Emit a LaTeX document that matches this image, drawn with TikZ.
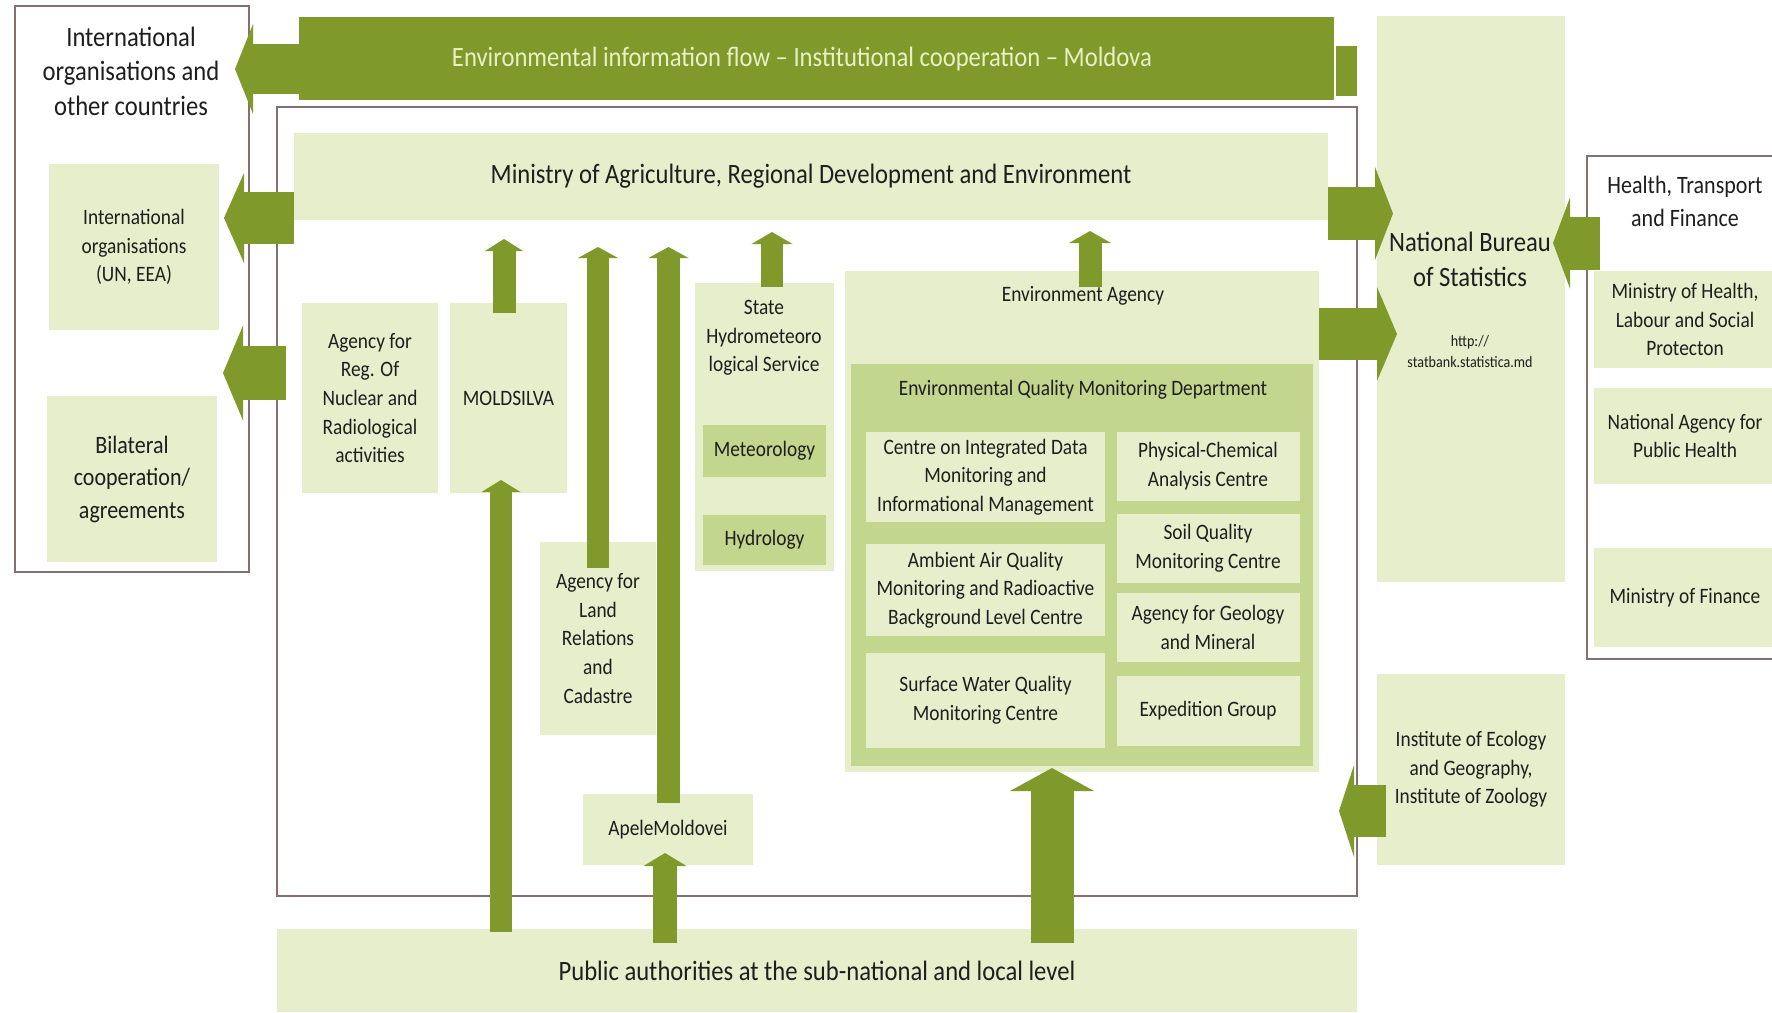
\documentclass[tikz,border=0pt]{standalone}
\usepackage{fontspec}
\setmainfont{Carlito}[FakeStretch=0.88]
\usetikzlibrary{arrows.meta}
\definecolor{arrowc}{HTML}{7F9A2B}
\definecolor{lightg}{HTML}{E7EECB}
\definecolor{midg}{HTML}{C3D68E}
\definecolor{framec}{HTML}{857070}
\definecolor{txtc}{HTML}{1E1E1E}
\definecolor{bannertxt}{HTML}{E8F0C6}
\newcommand\FsA{\fontsize{28}{34.5}\selectfont}
\newcommand\FsB{\fontsize{25}{32.5}\selectfont}
\newcommand\FsC{\fontsize{22}{28.6}\selectfont}
\newcommand\FsD{\fontsize{16}{21}\selectfont}
\tikzset{
  txt/.style={inner sep=0pt, outer sep=0pt, align=center, text=txtc},
  lbox/.style={txt, fill=lightg},
  mbox/.style={txt, fill=midg},
  frame/.style={draw=framec, line width=2pt, inner sep=0pt, outer sep=0pt},
  blk/.style n args={3}{draw=arrowc, line width=#1, -{Triangle[width=#2,length=#3,line width=0pt]}},
  sz/.style 2 args={minimum width=#1, minimum height=#2}
}
\begin{document}
\begin{tikzpicture}[x=1pt,y=-1pt]
\useasboundingbox (0,0) rectangle (1772,1012);
\clip (0,0) rectangle (1772,1012);
\fill[white] (0,0) rectangle (1772,1012);

% ---------- left frame ----------
\node[frame, sz={234pt}{566pt}] (lframe) at (132,289) {};
\node[txt, font=\FsA] (intlT) at (131,71) {International\\organisations and\\other countries};
\node[lbox, sz={170pt}{166pt}, font=\FsC] (intorg) at (134,247) {International\\organisations\\(UN, EEA)};
\node[lbox, sz={170pt}{166pt}, font=\FsB] (bilat) at (132,479) {Bilateral\\cooperation/\\agreements};

% ---------- banner ----------
\node[fill=arrowc, sz={1035pt}{83pt}, inner sep=0pt] (banner) at (816.5,58.5) {};
\node[inner sep=0pt, font=\FsA, text=bannertxt] (bannerT) at (802,59) {Environmental information flow – Institutional cooperation – Moldova};
\node[fill=arrowc, sz={21pt}{50pt}, inner sep=0pt] (bannerR) at (1346.5,71) {};

% ---------- inner frame ----------
\node[frame, sz={1080pt}{789pt}] (iframe) at (817,501.5) {};
\node[lbox, sz={1034pt}{87pt}, font=\FsA] (ministry) at (811,176.5) {Ministry of Agriculture, Regional Development and Environment};

\node[lbox, sz={136pt}{190pt}, font=\FsC] (agreg) at (370,398) {Agency for\\Reg. Of\\Nuclear and\\Radiological\\activities};
\node[lbox, sz={117pt}{190pt}, font=\FsC] (moldsilva) at (508.5,398) {MOLDSILVA};
\node[lbox, sz={116pt}{193pt}, font=\FsC] (land) at (598,638.5) {Agency for\\Land\\Relations\\and\\Cadastre};
\node[lbox, sz={170pt}{71pt}, font=\FsC] (apele) at (668,829.5) {ApeleMoldovei};

\node[lbox, sz={139pt}{288pt}] (state) at (764.5,427) {};
\node[txt, font=\FsC] (stateT) at (764,338) {State\\Hydrometeoro\\logical Service};
\node[mbox, sz={123pt}{52pt}, font=\FsC] (meteo) at (764.5,451) {Meteorology};
\node[mbox, sz={123pt}{50pt}, font=\FsC] (hydro) at (764.5,540) {Hydrology};

\node[lbox, sz={474pt}{501pt}] (ea) at (1082,521.5) {};
\node[txt, font=\FsC] (eaT) at (1083,296) {Environment Agency};
\node[mbox, sz={462pt}{402pt}] (dept) at (1082,565) {};
\node[txt, font=\FsC] (deptT) at (1083,390) {Environmental Quality Monitoring Department};

\node[lbox, sz={239pt}{90pt}, font=\FsC] (centre) at (985.5,477) {Centre on Integrated Data\\Monitoring and\\Informational Management};
\node[lbox, sz={239pt}{92pt}, font=\FsC] (ambient) at (985.5,590) {Ambient Air Quality\\Monitoring and Radioactive\\Background Level Centre};
\node[lbox, sz={239pt}{95pt}, font=\FsC] (surface) at (985.5,700.5) {Surface Water Quality\\Monitoring Centre};
\node[lbox, sz={183pt}{69pt}, font=\FsC] (phys) at (1208,466) {Physical-Chemical\\Analysis Centre};
\node[lbox, sz={183pt}{69pt}, font=\FsC] (soil) at (1208,548.5) {Soil Quality\\Monitoring Centre};
\node[lbox, sz={183pt}{69pt}, font=\FsC] (geo) at (1208,627.5) {Agency for Geology\\and Mineral};
\node[lbox, sz={183pt}{70pt}, font=\FsC] (exped) at (1208,711) {Expedition Group};

\node[lbox, sz={1080pt}{83pt}, font=\FsA] (public) at (817,970.5) {Public authorities at the sub-national and local level};

% ---------- right side ----------
\node[lbox, sz={188pt}{566pt}] (nbs) at (1471,299) {};
\node[txt, font=\fontsize{28}{35}\selectfont] (nbsT) at (1470,259) {National Bureau\\of Statistics};
\node[txt, font=\FsD] (nbsU) at (1470,352) {http://\\statbank.statistica.md};

\node[frame, sz={213pt}{503pt}] (rframe) at (1693.5,407.5) {};
\node[txt, font=\fontsize{25}{33}\selectfont] (rT) at (1685,201) {Health, Transport\\and Finance};
\node[lbox, sz={182pt}{97pt}, font=\FsC] (minhealth) at (1685,319.5) {Ministry of Health,\\Labour and Social\\Protecton};
\node[lbox, sz={182pt}{96pt}, font=\FsC] (natag) at (1685,436) {National Agency for\\Public Health};
\node[lbox, sz={182pt}{99pt}, font=\FsC] (minfin) at (1685,597.5) {Ministry of Finance};

\node[lbox, sz={188pt}{191pt}, font=\FsC] (inst) at (1471,769.5) {Institute of Ecology\\and Geography,\\Institute of Zoology};

% ---------- arrow end points ----------
\coordinate (a1s) at (299,69);    \coordinate (a1e) at (235,69);
\coordinate (a2s) at (294,218);   \coordinate (a2e) at (224,218);
\coordinate (a3s) at (286,373);   \coordinate (a3e) at (223,373);
\coordinate (a4s) at (1328,213.5); \coordinate (a4e) at (1393,213.5);
\coordinate (a5s) at (1319,334);  \coordinate (a5e) at (1397,334);
\coordinate (a6s) at (1600,243);  \coordinate (a6e) at (1553,243);
\coordinate (a7s) at (1386,811);  \coordinate (a7e) at (1339,811);
\coordinate (u1s) at (504,313);   \coordinate (u1e) at (504,239);
\coordinate (u2s) at (598,568);   \coordinate (u2e) at (598,247);
\coordinate (u3s) at (668.5,803); \coordinate (u3e) at (668.5,247);
\coordinate (u4s) at (772,287);   \coordinate (u4e) at (772,232);
\coordinate (u5s) at (1090,287);  \coordinate (u5e) at (1090,231);
\coordinate (u6s) at (501,932);   \coordinate (u6e) at (501,480);
\coordinate (u7s) at (665,943);   \coordinate (u7e) at (665,853);
\coordinate (u8s) at (1052,943);  \coordinate (u8e) at (1052,768);

% ---------- arrows ----------
\draw[blk={50pt}{90pt}{18pt}] (a1s) -- (a1e);
\draw[blk={52pt}{90pt}{20pt}] (a2s) -- (a2e);
\draw[blk={54pt}{95pt}{20pt}] (a3s) -- (a3e);
\draw[blk={53pt}{93pt}{18pt}] (a4s) -- (a4e);
\draw[blk={52pt}{94pt}{20pt}] (a5s) -- (a5e);
\draw[blk={53pt}{91pt}{17pt}] (a6s) -- (a6e);
\draw[blk={52pt}{92pt}{15pt}] (a7s) -- (a7e);
\draw[blk={23pt}{38pt}{12pt}] (u1s) -- (u1e);
\draw[blk={22pt}{40pt}{11pt}] (u2s) -- (u2e);
\draw[blk={23pt}{40pt}{11pt}] (u3s) -- (u3e);
\draw[blk={22pt}{41pt}{12pt}] (u4s) -- (u4e);
\draw[blk={23pt}{42pt}{12pt}] (u5s) -- (u5e);
\draw[blk={22pt}{39pt}{12pt}] (u6s) -- (u6e);
\draw[blk={24pt}{43pt}{13pt}] (u7s) -- (u7e);
\draw[blk={43pt}{84pt}{23pt}] (u8s) -- (u8e);
\end{tikzpicture}
\end{document}
